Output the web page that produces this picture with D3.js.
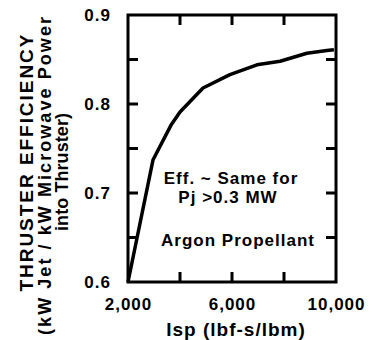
<!DOCTYPE html>
<html>
<head>
<meta charset="utf-8">
<script src="https://cdn.jsdelivr.net/npm/d3@7"></script>
<style>
  body { margin: 0; background: #fff; }
  text { font-family: "Liberation Sans", Arial, sans-serif; font-weight: bold; fill: #000; }
</style>
</head>
<body>
<svg id="chart" width="374" height="340"></svg>
<script>
// curve: Isp (lbf-s/lbm) vs thruster efficiency
const isp = [2000, 2960, 3650, 4000, 4885, 5920, 6960, 7850, 8880, 9650, 9920];
const eff = [0.600, 0.737, 0.776, 0.791, 0.818, 0.833, 0.844, 0.848, 0.857, 0.860, 0.861];

const xTicks = [2000, 4000, 6000, 8000, 10000];
const xTickLabels = ["2,000", "", "6,000", "", "10,000"];
const yTicks = [0.6, 0.65, 0.7, 0.75, 0.8, 0.85, 0.9];
const yTickLabels = ["0.6", "", "0.7", "", "0.8", "", "0.9"];

const titleLines = ["THRUSTER  EFFICIENCY", "(kW Jet / kW Microwave Power", "into Thruster)"];
const notes = ["Eff. ~ Same for", "Pj >0.3 MW", "Argon  Propellant"];

const svg = d3.select("#chart");
const plotL = 128, plotR = 336, plotT = 15, plotB = 282;
const tickLen = 10;

const x = d3.scaleLinear().domain([2000, 10000]).range([plotL, plotR]);
const y = d3.scaleLinear().domain([0.6, 0.9]).range([plotB, plotT]);

// frame
svg.append("rect")
  .attr("x", plotL).attr("y", plotT)
  .attr("width", plotR - plotL).attr("height", plotB - plotT)
  .attr("fill", "none").attr("stroke", "#000").attr("stroke-width", 3);

// inward ticks on all four sides, drawn as one path
const inner = xTicks.slice(1, -1), innerY = yTicks.slice(1, -1);
let tickPath = "";
inner.forEach(d => {
  tickPath += `M${x(d)},${plotB}V${plotB - tickLen}M${x(d)},${plotT}V${plotT + tickLen}`;
});
innerY.forEach(d => {
  tickPath += `M${plotL},${y(d)}H${plotL + tickLen}M${plotR},${y(d)}H${plotR - tickLen}`;
});
svg.append("path")
  .attr("d", tickPath)
  .attr("fill", "none")
  .attr("stroke", "#000")
  .attr("stroke-width", 3);

function styleAxis(g) {
  g.select(".domain").remove();
  g.selectAll(".tick line").remove();
  g.selectAll(".tick text")
    .style("font-size", "17px")
    .style("letter-spacing", "1px")
    .attr("fill", "#000");
}

svg.append("g")
  .attr("transform", `translate(0,${plotB})`)
  .call(d3.axisBottom(x).tickValues(xTicks).tickSize(0).tickPadding(16)
    .tickFormat((d, i) => xTickLabels[i]))
  .call(styleAxis);

svg.append("g")
  .attr("transform", `translate(${plotL},0)`)
  .call(d3.axisLeft(y).tickValues(yTicks).tickSize(0).tickPadding(17)
    .tickFormat((d, i) => yTickLabels[i]))
  .call(styleAxis);

// curve
const pts = isp.map((d, i) => [d, eff[i]]);
svg.append("path")
  .datum(pts)
  .attr("fill", "none")
  .attr("stroke", "#000")
  .attr("stroke-width", 3.5)
  .attr("stroke-linejoin", "round")
  .attr("d", d3.line().x(d => x(d[0])).y(d => y(d[1])));

// y title, three rotated lines
const titlePos = [
  {bx: 33, cy: 163, len: 257, size: 19},
  {bx: 51, cy: 176, len: 318, size: 18},
  {bx: 68, cy: 172, len: 118, size: 18}
];
titleLines.forEach((t, i) => {
  const p = titlePos[i];
  svg.append("text")
    .attr("transform", `translate(${p.bx},${p.cy}) rotate(-90)`)
    .attr("text-anchor", "middle")
    .attr("textLength", p.len)
    .attr("lengthAdjust", "spacing")
    .style("font-size", p.size + "px")
    .text(t);
});

// x title
svg.append("text")
  .attr("x", 236).attr("y", 336)
  .attr("text-anchor", "middle")
  .style("font-size", "19px")
  .style("letter-spacing", "1px")
  .text("Isp  (lbf-s/lbm)");

// notes inside the plot
const notePos = [[231, 184], [228, 203], [238, 246]];
notes.forEach((t, i) => {
  svg.append("text")
    .attr("x", notePos[i][0]).attr("y", notePos[i][1])
    .attr("text-anchor", "middle")
    .style("font-size", "17px")
    .style("letter-spacing", "1px")
    .text(t);
});
</script>
</body>
</html>
